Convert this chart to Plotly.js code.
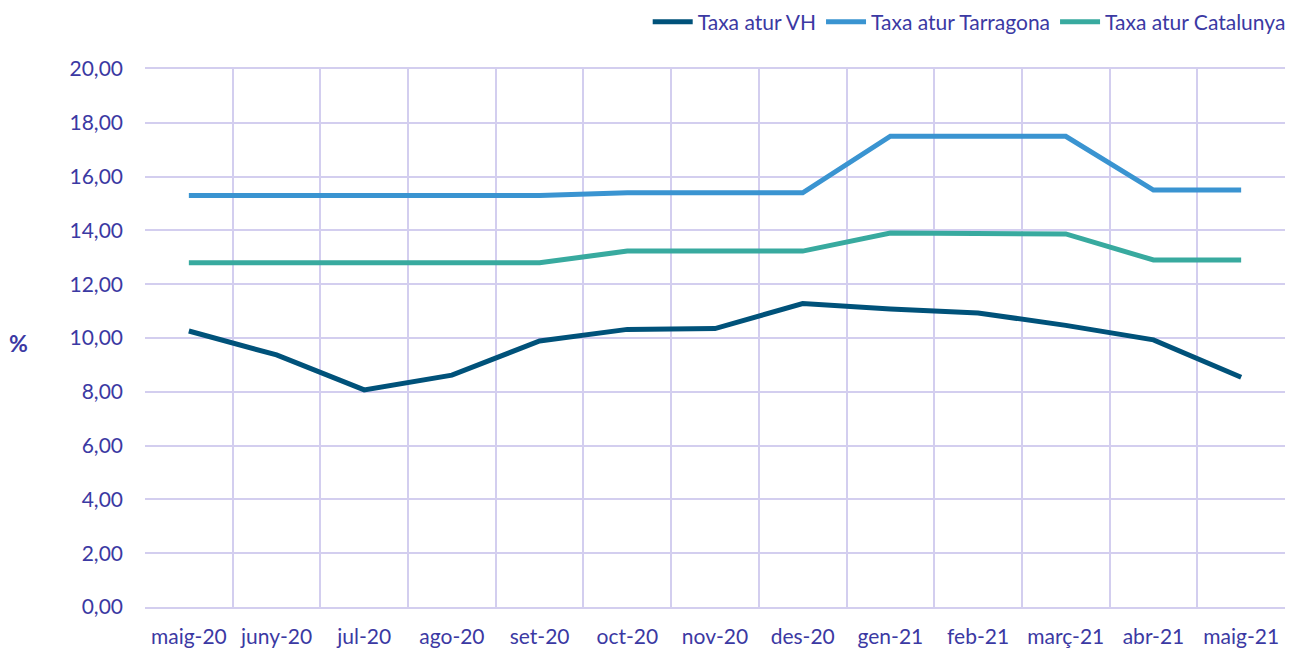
<!DOCTYPE html>
<html>
<head>
<meta charset="utf-8">
<script src="https://cdn.plot.ly/plotly-3.0.1.min.js"></script>
<style>html,body{margin:0;padding:0;background:#fff;}#chart{width:1298px;height:650px;}</style>
</head>
<body>
<div id="chart"></div>
<script>
const months = ["maig-20","juny-20","jul-20","ago-20","set-20","oct-20","nov-20","des-20","gen-21","feb-21","març-21","abr-21","maig-21"];
const vh = [10.26, 9.37, 8.07, 8.62, 9.89, 10.32, 10.35, 11.28, 11.08, 10.93, 10.47, 9.93, 8.54];
const tarragona = [15.3, 15.3, 15.3, 15.3, 15.3, 15.4, 15.4, 15.4, 17.5, 17.5, 17.5, 15.5, 15.5];
const catalunya = [12.8, 12.8, 12.8, 12.8, 12.8, 13.23, 13.23, 13.23, 13.9, 13.87, 13.87, 12.9, 12.9];
const yTicks = [0,2,4,6,8,10,12,14,16,18,20];

const txt = '#3B39A3';
const grid = '#D3CEEF';
const font = 'Lato, "Open Sans", sans-serif';

const traces = [
  {x: months, y: vh, name: 'Taxa atur VH', type: 'scatter', mode: 'lines', line: {color: '#00527A', width: 5}},
  {x: months, y: tarragona, name: 'Taxa atur Tarragona', type: 'scatter', mode: 'lines', line: {color: '#3A94D1', width: 5}},
  {x: months, y: catalunya, name: 'Taxa atur Catalunya', type: 'scatter', mode: 'lines', line: {color: '#38AA9F', width: 5}}
];

const layout = {
  width: 1298, height: 650,
  margin: {l: 145, r: 13, t: 69, b: 43, autoexpand: false},
  paper_bgcolor: '#fff', plot_bgcolor: '#fff',
  font: {family: font, color: txt, size: 21},
  separators: ', ',
  showlegend: true,
  legend: {orientation: 'h', x: 1.005, xanchor: 'right', y: 1.087, yanchor: 'middle', font: {size: 21, color: txt}, itemwidth: 40, tracegroupgap: 0},
  xaxis: {
    type: 'category', range: [-0.5, 12.5], tickson: 'boundaries',
    showgrid: true, gridcolor: grid, gridwidth: 2,
    showline: true, linecolor: grid, linewidth: 2, mirror: true,
    ticks: '', ticklen: 0, ticklabelstandoff: 10, tickfont: {size: 21, color: txt}, fixedrange: true
  },
  yaxis: {
    range: [0, 20], tickvals: yTicks, tickformat: '.2f',
    showgrid: true, gridcolor: grid, gridwidth: 2, zeroline: false,
    showline: false, ticks: '', ticklabelstandoff: 21,
    tickfont: {size: 21, color: txt}, fixedrange: true
  },
  annotations: [{
    text: '<b>%</b>', xref: 'paper', yref: 'paper', x: -0.111, y: 0.49,
    xanchor: 'center', yanchor: 'middle', showarrow: false, font: {size: 23, color: txt}
  }]
};

Plotly.newPlot('chart', traces, layout, {displayModeBar: false, staticPlot: true});
</script>
</body>
</html>
